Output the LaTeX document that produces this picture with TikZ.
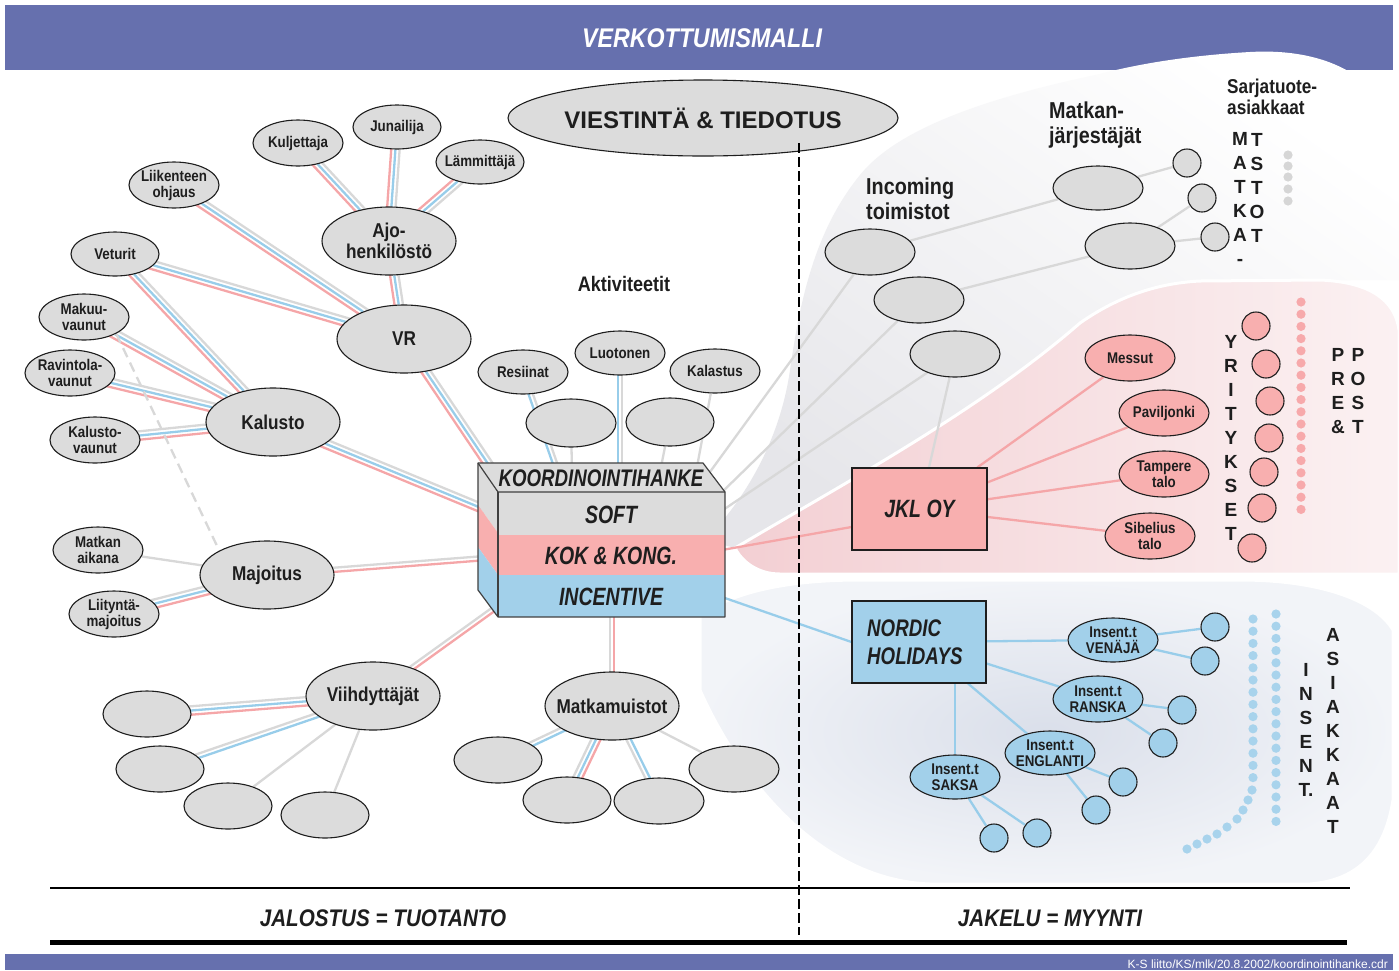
\documentclass[tikz,border=0pt]{standalone}
\usepackage{fontspec}
\setmainfont{Liberation Sans}
\newfontfamily\nar{Liberation Sans}[FakeStretch=0.86]
\newfontfamily\narx{Liberation Sans}[FakeStretch=0.78]
\usetikzlibrary{shapes.geometric,calc}
\pgfdeclarelayer{shade}
\pgfdeclarelayer{lines}
\pgfsetlayers{shade,lines,main}
\definecolor{banner}{HTML}{6670AE}
\definecolor{eg}{HTML}{DCDCDC}
\definecolor{lg}{HTML}{D8D8D8}
\definecolor{lb}{HTML}{98CDEA}
\definecolor{lp}{HTML}{F5A6A8}
\definecolor{pf}{HTML}{F8AFAF}
\definecolor{bf}{HTML}{A2D0EA}
\definecolor{ol}{HTML}{1E1E1E}
\definecolor{greyB}{HTML}{E6E6EA}
\definecolor{pinkA}{HTML}{F3CFD3}
\definecolor{pinkB}{HTML}{FBF1F2}
\definecolor{blueA}{HTML}{DADFEA}
\definecolor{blueB}{HTML}{F2F4F8}
\definecolor{dotg}{HTML}{D6D6D6}
\definecolor{dotp}{HTML}{F7A9AB}
\definecolor{dotb}{HTML}{A8D3EC}
\tikzset{
 ell/.style={ellipse, draw=ol, line width=1.1pt, fill=eg, inner sep=0pt},
 ellp/.style={ell, fill=pf},
 ellb/.style={ell, fill=bf},
 lbl/.style={font=\nar\bfseries\fontsize{15.5}{16}\selectfont, align=center, inner sep=0pt, text=ol},
 big/.style={font=\nar\bfseries\fontsize{20}{21}\selectfont, align=center, inner sep=0pt, text=ol},
 head/.style={font=\nar\bfseries\fontsize{23}{25}\selectfont, align=left, inner sep=0pt, text=ol, anchor=west},
 vl/.style={font=\bfseries\fontsize{19}{24}\selectfont, align=center, inner sep=0pt, text=ol},
 boxt/.style={font=\narx\bfseries\itshape\fontsize{25}{28}\selectfont, inner sep=0pt, text=ol},
 cg/.style={circle, draw=ol, line width=1.1pt, minimum size=28pt, inner sep=0pt, fill=eg},
 cp/.style={cg, fill=pf},
 cb/.style={cg, fill=bf},
 gl/.style={draw=lg, line width=2.3pt},
 bl/.style={draw=lb, line width=2.3pt},
 pl/.style={draw=lp, line width=2.3pt},
 dl/.style={draw=lg, line width=2.3pt, dash pattern=on 10pt off 6pt},
}
\newcommand\el[7][ell]{%
 \node[#1, minimum width=#4pt, minimum height=#5pt] (#2) at (#3) {};
 \node[#6] (#2-t) at (#2.center) {#7};}
\newcommand\clft[4]{\draw[#3] ($(#1)!#4!90:(#2)$) -- ($(#2)!#4!-90:(#1)$);}
\newcommand\crgt[4]{\draw[#3] ($(#1)!#4!-90:(#2)$) -- ($(#2)!#4!90:(#1)$);}
\newcommand\tri[2]{\clft{#1}{#2}{gl}{4.2pt}\draw[bl] (#1) -- (#2);\crgt{#1}{#2}{pl}{4.2pt}}
\newcommand\gb[2]{\clft{#1}{#2}{gl}{2.1pt}\crgt{#1}{#2}{bl}{2.1pt}}
\newcommand\gp[2]{\clft{#1}{#2}{gl}{2.1pt}\crgt{#1}{#2}{pl}{2.1pt}}
\newcommand\go[2]{\draw[gl] (#1) -- (#2);}
\begin{document}
\begin{tikzpicture}[x=1pt,y=-1pt]
\useasboundingbox (0,0) rectangle (1399,970);
\begin{pgfonlayer}{shade}
\fill[white] (0,0) rectangle (1399,970);
\fill[banner] (5,5) rectangle (1393,70);
\fill[banner] (5,954) rectangle (1393,970);
\shade[top color=white, bottom color=greyB, shading angle=-35]
 (1348,71) .. controls (1320,55) and (1285,50) .. (1250,52)
 .. controls (1180,56) and (1130,66) .. (1100,74)
 .. controls (1000,95) and (900,125) .. (860,175)
 .. controls (815,230) and (800,300) .. (790,370)
 .. controls (780,440) and (745,500) .. (705,540)
 -- (735,548) .. controls (850,480) and (980,410) .. (1080,323)
 .. controls (1120,295) and (1160,283) .. (1200,281) -- (1399,280) -- (1399,71) -- cycle;
\shadedraw[left color=pinkA, right color=pinkB, draw=white, line width=3pt]
 (735,548) .. controls (850,480) and (980,410) .. (1080,323)
 .. controls (1120,295) and (1160,283) .. (1200,281) -- (1320,280)
 .. controls (1370,282) and (1395,300) .. (1399,330) -- (1399,574) -- (780,574)
 .. controls (758,574) and (742,562) .. (735,548) -- cycle;
\shadedraw[inner color=blueA, outer color=blueB, draw=white, line width=3pt]
 (700,615) .. controls (740,588) and (800,580) .. (860,580) -- (1240,580)
 .. controls (1320,580) and (1375,600) .. (1393,630) -- (1393,800)
 .. controls (1385,850) and (1360,880) .. (1310,884) -- (930,884)
 .. controls (820,880) and (740,780) .. (700,690) -- cycle;
\end{pgfonlayer}

% title and footer
\node[font=\nar\bfseries\itshape\fontsize{27}{30}\selectfont, text=white, inner sep=0] (title) at (702,38) {VERKOTTUMISMALLI};
\node[font=\fontsize{12}{13}\selectfont, text=white, inner sep=0, anchor=east] (foot) at (1388,964) {K-S liitto/KS/mlk/20.8.2002/koordinointihanke.cdr};

% top ellipse
\node[ell, minimum width=390pt, minimum height=76pt] (vies) at (703,118) {};
\node[font=\bfseries\fontsize{24}{26}\selectfont, text=ol, inner sep=0] (vies-t) at (vies.center) {VIESTINTÄ \& TIEDOTUS};

% left ellipses
\el{kul}{298,143}{90}{46}{lbl}{Kuljettaja}
\el{jun}{397,127}{88}{44}{lbl}{Junailija}
\el{lam}{480,162}{88}{44}{lbl}{Lämmittäjä}
\el{lii}{174,185}{90}{46}{lbl}{Liikenteen\\ohjaus}
\el{ajo}{389,241}{134}{68}{big}{Ajo-\\henkilöstö}
\el{vet}{115,254}{88}{44}{lbl}{Veturit}
\el{vr}{404,339}{134}{68}{big}{VR}
\el{mak}{84,317}{90}{46}{lbl}{Makuu-\\vaunut}
\el{rav}{70,373}{90}{46}{lbl}{Ravintola-\\vaunut}
\el{kal}{273,422}{134}{68}{big}{Kalusto}
\el{kva}{95,440}{90}{46}{lbl}{Kalusto-\\vaunut}
\el{mat}{98,550}{90}{46}{lbl}{Matkan\\aikana}
\el{maj}{267,575}{134}{68}{big}{Majoitus}
\el{lit}{114,614}{90}{46}{lbl}{Liityntä-\\majoitus}
\el{vii}{373,696}{134}{68}{big}{Viihdyttäjät}
\el{ea}{147,714}{88}{46}{lbl}{}
\el{eb}{160,769}{88}{46}{lbl}{}
\el{ec}{228,806}{88}{46}{lbl}{}
\el{ed}{325,815}{88}{46}{lbl}{}
\el{mm}{612,706}{134}{68}{big}{Matkamuistot}
\el{e1}{498,760}{88}{46}{lbl}{}
\el{e2}{567,800}{88}{46}{lbl}{}
\el{e3}{659,801}{90}{46}{lbl}{}
\el{e4}{734,769}{90}{46}{lbl}{}
\el{res}{523,372}{90}{44}{lbl}{Resiinat}
\el{luo}{620,353}{90}{44}{lbl}{Luotonen}
\el{kala}{715,371}{90}{44}{lbl}{Kalastus}
\el{f1}{571,423}{90}{48}{lbl}{}
\el{f2}{670,422}{88}{48}{lbl}{}
\node[big, font=\nar\bfseries\fontsize{21}{22}\selectfont] (akt) at (624,284) {Aktiviteetit};

% right grey ellipses
\el{i1}{870,252}{90}{46}{lbl}{}
\el{i2}{919,300}{90}{46}{lbl}{}
\el{i3}{955,354}{90}{46}{lbl}{}
\el{m1}{1098,188}{90}{44}{lbl}{}
\el{m2}{1130,246}{90}{46}{lbl}{}
\node[cg] (c1) at (1187,163) {};
\node[cg] (c2) at (1202,198) {};
\node[cg] (c3) at (1215,237) {};
\node[head] (inc) at (866,199) {Incoming\\toimistot};
\node[head] (mj) at (1049,125) {Matkan-\\järjestäjät};
\node[head, font=\nar\bfseries\fontsize{20}{21}\selectfont] (sar) at (1227,97) {Sarjatuote-\\asiakkaat};
\node[vl] (matka) at (1240,199) {M\\A\\T\\K\\A\\-};
\node[vl] (tstot) at (1257,188) {T\\S\\T\\O\\T};
\foreach \y in {155,166,177,189,201} \fill[dotg] (1288,\y) circle (4.6pt);

% pink group
\node[draw=ol, fill=pf, line width=1.1pt, minimum width=135pt, minimum height=82pt, inner sep=0pt, boxt] (jkl) at (919.5,509) {JKL OY};
\el[ellp]{mes}{1130,358}{90}{46}{lbl}{Messut}
\el[ellp]{pav}{1164,413}{90}{46}{lbl}{Paviljonki}
\el[ellp]{tam}{1164,474}{90}{46}{lbl}{Tampere\\talo}
\el[ellp]{sib}{1150,536}{90}{46}{lbl}{Sibelius\\talo}
\node[cp] (p1) at (1256,326) {};
\node[cp] (p2) at (1266,364) {};
\node[cp] (p3) at (1270,401) {};
\node[cp] (p4) at (1269,438) {};
\node[cp] (p5) at (1264,472) {};
\node[cp] (p6) at (1262,508) {};
\node[cp] (p7) at (1252,548) {};
\foreach \i in {0,...,17} \fill[dotp] (1301,302+12.2*\i) circle (4.6pt);
\node[vl] (yri) at (1231,438) {Y\\R\\I\\T\\Y\\K\\S\\E\\T};
\node[vl] (pre) at (1338,391) {P\\R\\E\\\&};
\node[vl] (post) at (1358,391) {P\\O\\S\\T};

% blue group
\node[draw=ol, fill=bf, line width=1.1pt, minimum width=134pt, minimum height=82pt, inner sep=0pt] (nh) at (919,642) {};
\node[boxt, font=\narx\bfseries\itshape\fontsize{24}{28}\selectfont, align=left, anchor=west] (nh-t) at (867,642) {NORDIC\\HOLIDAYS};
\el[ellb]{ven}{1113,640}{90}{44}{lbl}{Insent.t\\VENÄJÄ}
\el[ellb]{ran}{1098,699}{90}{46}{lbl}{Insent.t\\RANSKA}
\el[ellb]{eng}{1050,753}{90}{44}{lbl}{Insent.t\\ENGLANTI}
\el[ellb]{sak}{955,777}{90}{44}{lbl}{Insent.t\\SAKSA}
\node[cb] (b1) at (1215,627) {};
\node[cb] (b2) at (1205,661) {};
\node[cb] (b3) at (1182,710) {};
\node[cb] (b4) at (1163,743) {};
\node[cb] (b5) at (1123,782) {};
\node[cb] (b6) at (1096,810) {};
\node[cb] (b7) at (1037,833) {};
\node[cb] (b8) at (994,838) {};
\foreach \i in {0,...,17} \fill[dotb] (1276,614+12.2*\i) circle (4.6pt);
\foreach \i in {0,...,13} \fill[dotb] (1253,619+12.2*\i) circle (4.6pt);
\foreach \p in {(1252,790),(1248,800),(1243,810),(1237,819),(1227,827),(1217,834),(1207,839),(1197,844),(1187,849)} \fill[dotb] \p circle (4.6pt);
\node[vl] (insv) at (1306,730) {I\\N\\S\\E\\N\\T.};
\node[vl] (asi) at (1333,731) {A\\S\\I\\A\\K\\K\\A\\A\\T};

% central box
\node[inner sep=0pt, minimum width=227pt, minimum height=125pt] (box) at (611.5,554.5) {};
\fill[eg] (478,463) -- (703,463) -- (725,492) -- (498,492) -- cycle;
\fill[eg] (478,463) -- (498,492) -- (498,533) -- (478,505) -- cycle;
\fill[pf] (478,505) -- (498,533) -- (498,575) -- (478,547) -- cycle;
\fill[bf] (478,547) -- (498,575) -- (498,617) -- (478,590) -- cycle;
\fill[eg] (box.north west) rectangle (725,535);
\fill[pf] (498,535) rectangle (725,575);
\fill[bf] (498,575) rectangle (box.south east);
\draw[ol!85, line width=1.2pt, line join=round] (478,463) -- (703,463) -- (725,492) -- (725,617) -- (498,617) -- (478,590) -- cycle;
\draw[ol!85, line width=1.2pt] (478,463) -- (498,492) -- (725,492);
\draw[ol!85, line width=1.2pt] (498,492) -- (498,617);
\node[boxt, font=\narx\bfseries\itshape\fontsize{24}{26}\selectfont] (koord) at (601,478) {KOORDINOINTIHANKE};
\node[boxt] (soft) at (611,515) {SOFT};
\node[boxt] (kok) at (611,556) {KOK \& KONG.};
\node[boxt] (incv) at (611,597) {INCENTIVE};

% attachment points on the box
\coordinate (vrA) at (503,486);
\coordinate (kalA) at (486,510);
\coordinate (majA) at (486,558);
\coordinate (viiA) at (498,606);
\coordinate (mmA) at (612,610);
\coordinate (resA) at (558,472);
\coordinate (luoA) at (620,472);
\coordinate (f1A) at (572,472);
\coordinate (f2A) at (660,472);
\coordinate (kalaA) at (696,472);
\coordinate (i1A) at (707,476);
\coordinate (i2A) at (718,496);
\coordinate (i3A) at (720,512);
\coordinate (kokA) at (722,550);
\coordinate (incA) at (722,597);

\begin{pgfonlayer}{lines}
\tri{kul}{ajo}\tri{jun}{ajo}\tri{lam}{ajo}\tri{ajo}{vr}
\tri{lii}{vr}\tri{vet}{vr}\tri{vet}{kal}\tri{mak}{kal}\tri{rav}{kal}\tri{kva}{kal}
\tri{vr}{vrA}\tri{kal}{kalA}
\go{mat}{maj}\tri{lit}{maj}\gp{maj}{majA}\gp{vii}{viiA}
\tri{ea}{vii}\gb{eb}{vii}\go{ec}{vii}\go{ed}{vii}
\gp{mm}{mmA}\gb{e1}{mm}\tri{e2}{mm}\gb{e3}{mm}\go{e4}{mm}
\gb{res}{resA}\gb{luo}{luoA}\go{kala}{kalaA}\go{f1}{f1A}\go{f2}{f2A}
\draw[dl] (mak.south east) -- (maj.north west);
\go{i1}{i1A}\go{i2}{i2A}\go{i3}{i3A}
\go{i1}{m1}\go{i2}{m2}\go{i3}{jkl}
\go{m1}{c1}\go{m2}{c2}\go{m2}{c3}
\draw[pl] (kokA) -- ($(jkl.west)+(0,18)$);
\draw[pl] (jkl) -- (mes);
\draw[pl] (jkl) -- (pav);
\draw[pl] (jkl) -- (tam);
\draw[pl] (jkl) -- (sib);
\draw[bl] (incA) -- (nh.west);
\draw[bl] (nh) -- (ven);
\draw[bl] (nh) -- (ran);
\draw[bl] (nh) -- (eng);
\draw[bl] (sak |- nh.south) -- (sak);
\draw[bl] (ven) -- (b1);
\draw[bl] (ven) -- (b2);
\draw[bl] (ran) -- (b3);
\draw[bl] (ran) -- (b4);
\draw[bl] (eng) -- (b5);
\draw[bl] (eng) -- (b6);
\draw[bl] (sak) -- (b7);
\draw[bl] (sak) -- (b8);
\end{pgfonlayer}

% divider and baselines
\draw[black, line width=2.4pt, dash pattern=on 10pt off 4pt] (799,143) -- (799,935);
\draw[black, line width=2pt] (50,888) -- (1350,888);
\draw[black, line width=5pt] (50,942) -- (1347,942);
\node[font=\nar\bfseries\itshape\fontsize{24}{26}\selectfont, text=ol, inner sep=0] (jal) at (383,918) {JALOSTUS = TUOTANTO};
\node[font=\nar\bfseries\itshape\fontsize{24}{26}\selectfont, text=ol, inner sep=0] (jak) at (1050,918) {JAKELU = MYYNTI};
\end{tikzpicture}
\end{document}
